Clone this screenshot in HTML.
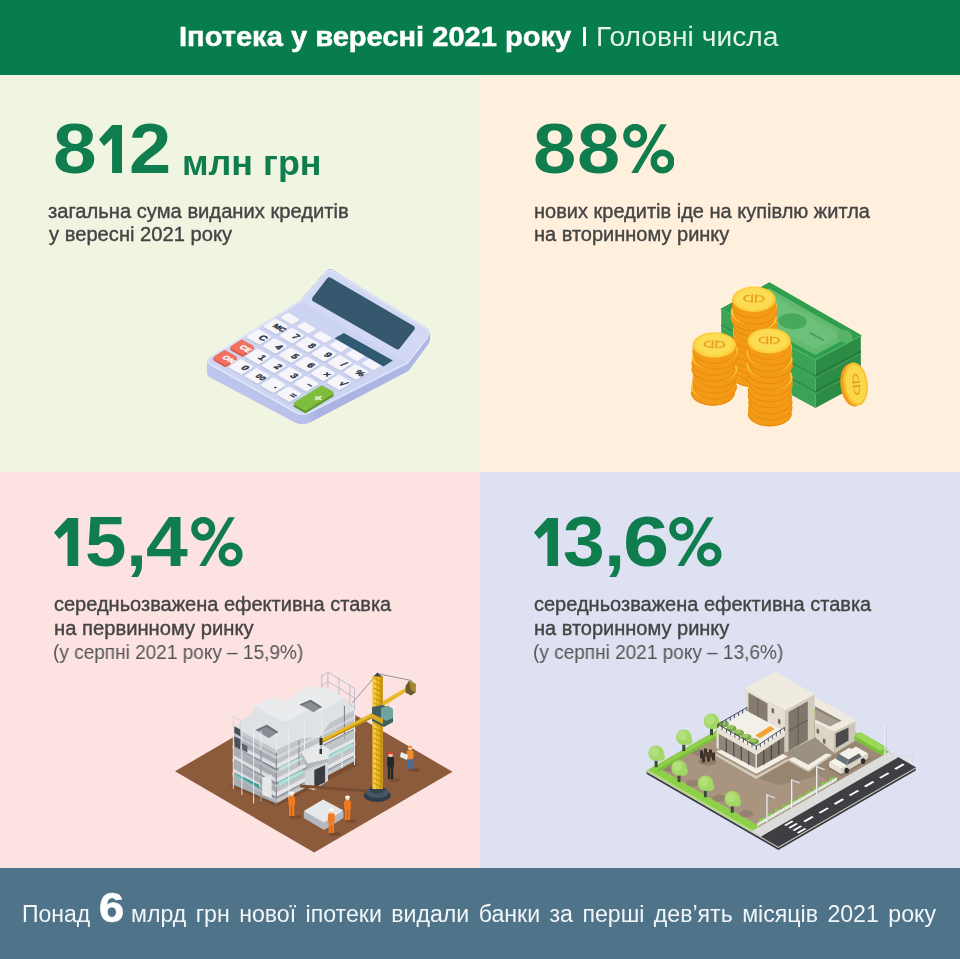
<!DOCTYPE html>
<html lang="uk">
<head>
<meta charset="utf-8">
<title>Іпотека у вересні 2021 року</title>
<style>
html,body{margin:0;padding:0;}
body{width:960px;height:959px;position:relative;overflow:hidden;background:#f0f5e1;font-family:"Liberation Sans",sans-serif;}
.blk{position:absolute;}
.t{position:absolute;white-space:nowrap;line-height:1;transform-origin:0 0;will-change:transform;}
.hdr{left:0;top:0;width:960px;height:75px;background:#077d4c;}
.q1{left:0;top:75px;width:480px;height:397px;background:#f0f5e1;}
.q2{left:480px;top:75px;width:480px;height:397px;background:#fff0de;}
.q3{left:0;top:472px;width:480px;height:396px;background:#fde2e2;}
.q4{left:480px;top:472px;width:480px;height:396px;background:#dee1f2;}
.ftr{left:0;top:868px;width:960px;height:91px;background:#4f748a;}
.big{font-weight:bold;color:#0f7d4d;font-size:70px;}
.sub{color:#444;font-size:20px;-webkit-text-stroke:0.38px #444;}
.lt{color:#555;font-size:19.5px;transform:scaleX(0.975);}
svg{position:absolute;left:0;top:0;}
</style>
</head>
<body>
<div class="blk hdr"></div>
<div class="blk q1"></div>
<div class="blk q2"></div>
<div class="blk q3"></div>
<div class="blk q4"></div>
<div class="blk ftr"></div>

<!-- header -->
<div class="t" style="left:179px;top:23.5px;font-size:27px;font-weight:bold;color:#fff;transform:scaleX(1.077);-webkit-text-stroke:0.5px #fff;">Іпотека у вересні 2021 року</div>
<div class="blk" style="left:583px;top:26.5px;width:3px;height:19.5px;background:#fff;"></div>
<div class="t" style="left:596px;top:24.3px;font-size:27px;color:#e3f3ea;transform:scaleX(1.046);">Головні числа</div>

<div class="t big" style="left:53.45px;top:113.8px;transform:scaleX(1.1200);">8</div>
<svg width="23.4" height="48.3" viewBox="0 0 23.8 48.3" preserveAspectRatio="none" style="left:99.0px;top:125.0px"><path d="M13.3,0 H23.8 V48.3 H13.3 V13.2 L5.2,21 L0,14.5 Z" fill="#0f7d4d"/></svg>
<div class="t big" style="left:128.52px;top:113.8px;transform:scaleX(1.0845);">2</div>
<div class="t big" style="left:532.97px;top:113.8px;transform:scaleX(1.1114);">8</div>
<div class="t big" style="left:576.87px;top:113.8px;transform:scaleX(1.1086);">8</div>
<svg width="51.7" height="49.4" viewBox="0 0 51.8 49.4" preserveAspectRatio="none" style="left:622.5px;top:124.2px"><g fill="none" stroke="#0f7d4d" stroke-width="6.4"><circle cx="12.2" cy="11.8" r="8.8"/><circle cx="39.6" cy="37.6" r="8.8"/></g><polygon points="8.3,48.9 14.7,48.9 43.8,0.3 37.5,0.3" fill="#0f7d4d"/></svg>
<svg width="24.2" height="48.3" viewBox="0 0 23.8 48.3" preserveAspectRatio="none" style="left:54.4px;top:518.0px"><path d="M13.3,0 H23.8 V48.3 H13.3 V13.2 L5.2,21 L0,14.5 Z" fill="#0f7d4d"/></svg>
<div class="t big" style="left:85.26px;top:506.8px;transform:scaleX(1.0657);">5</div>
<div class="t big" style="left:126.40px;top:506.8px;transform:scaleX(1.0816);">,</div>
<div class="t big" style="left:146.30px;top:506.8px;transform:scaleX(1.0728);">4</div>
<svg width="51.8" height="49.4" viewBox="0 0 51.8 49.4" preserveAspectRatio="none" style="left:191.3px;top:517.2px"><g fill="none" stroke="#0f7d4d" stroke-width="6.4"><circle cx="12.2" cy="11.8" r="8.8"/><circle cx="39.6" cy="37.6" r="8.8"/></g><polygon points="8.3,48.9 14.7,48.9 43.8,0.3 37.5,0.3" fill="#0f7d4d"/></svg>
<svg width="24.0" height="48.3" viewBox="0 0 23.8 48.3" preserveAspectRatio="none" style="left:534.2px;top:518.0px"><path d="M13.3,0 H23.8 V48.3 H13.3 V13.2 L5.2,21 L0,14.5 Z" fill="#0f7d4d"/></svg>
<div class="t big" style="left:563.00px;top:506.8px;transform:scaleX(1.0714);">3</div>
<div class="t big" style="left:603.85px;top:506.8px;transform:scaleX(1.0918);">,</div>
<div class="t big" style="left:622.98px;top:506.8px;transform:scaleX(1.1845);">6</div>
<svg width="52.7" height="49.4" viewBox="0 0 51.8 49.4" preserveAspectRatio="none" style="left:669.3px;top:517.2px"><g fill="none" stroke="#0f7d4d" stroke-width="6.4"><circle cx="12.2" cy="11.8" r="8.8"/><circle cx="39.6" cy="37.6" r="8.8"/></g><polygon points="8.3,48.9 14.7,48.9 43.8,0.3 37.5,0.3" fill="#0f7d4d"/></svg>
<!-- q1 -->
<div class="t" style="left:182px;top:145.3px;font-size:35px;font-weight:bold;color:#0f7d4d;transform:scaleX(1.025);">млн грн</div>
<div class="t sub" style="transform:scaleX(1.008);left:48px;top:201.1px;">загальна сума виданих кредитів</div>
<div class="t sub" style="transform:scaleX(1.008);left:48.5px;top:224.2px;">у вересні 2021 року</div>

<!-- q2 -->
<div class="t sub" style="left:534px;top:201.1px;">нових кредитів іде на купівлю житла</div>
<div class="t sub" style="left:534px;top:224.2px;">на вторинному ринку</div>

<!-- q3 -->
<div class="t sub" style="left:54px;top:594.2px;">середньозважена ефективна ставка</div>
<div class="t sub" style="transform:scaleX(1.01);left:54px;top:617.5px;">на первинному ринку</div>
<div class="t lt" style="left:53px;top:642.5px;">(у серпні 2021 року – 15,9%)</div>

<!-- q4 -->
<div class="t sub" style="left:534px;top:594.2px;">середньозважена ефективна ставка</div>
<div class="t sub" style="left:534px;top:617.5px;">на вторинному ринку</div>
<div class="t lt" style="left:533px;top:642.5px;">(у серпні 2021 року – 13,6%)</div>

<!-- footer -->
<div class="t" style="left:21.5px;top:902.5px;font-size:23px;color:#f3f6f8;">Понад</div>
<div class="t" style="left:98.6px;top:886.7px;font-size:42px;font-weight:bold;color:#fff;transform:scaleX(1.08);-webkit-text-stroke:0.6px #fff;">6</div>
<div class="t" style="left:131.2px;top:902.5px;font-size:23px;color:#f3f6f8;word-spacing:3px;transform:scaleX(1.0055);">млрд грн нової іпотеки видали банки за перші дев’ять місяців 2021 року</div>


<!-- calc -->
<svg width="250" height="180" viewBox="0 0 960 691.2" style="left:190px;top:260px;overflow:visible">
<defs><linearGradient id="cg" x1="0" y1="0" x2="1" y2="0"><stop offset="0" stop-color="#bec6ed"/><stop offset="0.45" stop-color="#b9c1ea"/><stop offset="0.5" stop-color="#a9b2e2"/><stop offset="1" stop-color="#aeb7e5"/></linearGradient></defs>
<path d="M81.5,447.3 Q62.0,437.0 79.6,423.7 L427.3,161.5 Q428.0,161.0 428.5,160.4 L525.5,49.9 Q536.0,38.0 549.1,46.9 L901.5,285.8 Q924.0,301.0 907.8,322.8 L835.1,420.5 Q834.0,422.0 832.4,422.8 L459.9,617.4 Q432.0,632.0 404.1,617.3 Z" fill="url(#cg)" stroke="url(#cg)" stroke-width="12" stroke-linejoin="round"/>
<path d="M81.6,443.9 Q62.0,433.5 79.8,420.3 L427.3,161.5 Q428.0,161.0 428.6,160.4 L525.6,49.9 Q536.0,38.0 549.1,46.8 L901.4,284.0 Q924.0,299.3 907.7,321.2 L835.1,418.4 Q834.0,419.9 832.4,420.7 L460.0,614.9 Q432.0,629.4 404.1,614.7 Z" fill="url(#cg)" stroke="url(#cg)" stroke-width="12" stroke-linejoin="round"/>
<path d="M81.7,440.5 Q62.0,430.0 79.9,416.8 L427.3,161.5 Q428.0,161.0 428.6,160.3 L525.6,49.9 Q536.0,38.0 549.1,46.8 L901.2,282.3 Q924.0,297.6 907.6,319.5 L835.1,416.3 Q834.0,417.7 832.4,418.6 L460.0,612.3 Q432.0,626.9 404.1,612.0 Z" fill="url(#cg)" stroke="url(#cg)" stroke-width="12" stroke-linejoin="round"/>
<path d="M81.7,437.0 Q62.0,426.5 80.1,413.4 L427.3,161.5 Q428.0,161.0 428.6,160.3 L525.6,49.8 Q536.0,38.0 549.1,46.7 L901.0,280.6 Q924.0,295.9 907.4,317.9 L835.1,414.1 Q834.0,415.6 832.4,416.4 L460.1,609.7 Q432.0,624.3 404.1,609.4 Z" fill="url(#cg)" stroke="url(#cg)" stroke-width="12" stroke-linejoin="round"/>
<path d="M81.8,433.6 Q62.0,423.0 80.3,409.9 L427.3,161.5 Q428.0,161.0 428.6,160.3 L525.6,49.8 Q536.0,38.0 549.1,46.6 L900.9,278.9 Q924.0,294.1 907.3,316.2 L835.1,412.0 Q834.0,413.4 832.4,414.3 L460.1,607.2 Q432.0,621.7 404.1,606.7 Z" fill="url(#cg)" stroke="url(#cg)" stroke-width="12" stroke-linejoin="round"/>
<path d="M81.9,430.2 Q62.0,419.5 80.4,406.5 L427.2,161.5 Q428.0,161.0 428.6,160.3 L525.7,49.8 Q536.0,38.0 549.1,46.6 L900.7,277.2 Q924.0,292.4 907.2,314.6 L835.1,409.8 Q834.0,411.3 832.4,412.1 L460.2,604.6 Q432.0,619.1 404.1,604.1 Z" fill="url(#cg)" stroke="url(#cg)" stroke-width="12" stroke-linejoin="round"/>
<path d="M82.0,426.8 Q62.0,416.0 80.6,403.0 L427.2,161.6 Q428.0,161.0 428.6,160.3 L525.7,49.7 Q536.0,38.0 549.1,46.5 L900.6,275.5 Q924.0,290.7 907.1,313.0 L835.1,407.7 Q834.0,409.1 832.4,410.0 L460.2,602.0 Q432.0,616.6 404.1,601.4 Z" fill="url(#cg)" stroke="url(#cg)" stroke-width="12" stroke-linejoin="round"/>
<path d="M82.0,423.4 Q62.0,412.5 80.8,399.6 L427.2,161.6 Q428.0,161.0 428.7,160.3 L525.7,49.7 Q536.0,38.0 549.0,46.4 L900.4,273.7 Q924.0,289.0 907.0,311.3 L835.1,405.6 Q834.0,407.0 832.4,407.8 L460.3,599.5 Q432.0,614.0 404.1,598.8 Z" fill="url(#cg)" stroke="url(#cg)" stroke-width="12" stroke-linejoin="round"/>
<path d="M82.1,420.0 Q62.0,409.0 81.0,396.1 L427.2,161.6 Q428.0,161.0 428.7,160.2 L525.8,49.6 Q536.0,38.0 549.0,46.4 L900.2,272.0 Q924.0,287.3 906.8,309.7 L835.1,403.4 Q834.0,404.9 832.4,405.7 L460.3,596.9 Q432.0,611.4 404.1,596.2 Z" fill="url(#cg)" stroke="url(#cg)" stroke-width="12" stroke-linejoin="round"/>
<path d="M82.2,416.6 Q62.0,405.5 81.2,392.7 L427.1,161.6 Q428.0,161.0 428.7,160.2 L525.8,49.6 Q536.0,38.0 549.0,46.3 L900.1,270.3 Q924.0,285.6 906.7,308.1 L835.1,401.3 Q834.0,402.7 832.4,403.5 L460.4,594.3 Q432.0,608.9 404.1,593.5 Z" fill="url(#cg)" stroke="url(#cg)" stroke-width="12" stroke-linejoin="round"/>
<path d="M82.3,413.2 Q62.0,402.0 81.4,389.3 L427.1,161.6 Q428.0,161.0 428.7,160.2 L525.8,49.6 Q536.0,38.0 549.0,46.2 L899.9,268.6 Q924.0,283.9 906.6,306.4 L835.1,399.2 Q834.0,400.6 832.4,401.4 L460.4,591.8 Q432.0,606.3 404.1,590.9 Z" fill="url(#cg)" stroke="url(#cg)" stroke-width="12" stroke-linejoin="round"/>
<path d="M82.4,409.8 Q62.0,398.5 81.5,385.8 L427.1,161.6 Q428.0,161.0 428.7,160.2 L525.9,49.5 Q536.0,38.0 549.0,46.2 L899.7,266.9 Q924.0,282.1 906.5,304.8 L835.1,397.0 Q834.0,398.4 832.4,399.2 L460.5,589.2 Q432.0,603.7 404.1,588.2 Z" fill="url(#cg)" stroke="url(#cg)" stroke-width="12" stroke-linejoin="round"/>
<path d="M82.5,406.4 Q62.0,395.0 81.7,382.4 L427.0,161.6 Q428.0,161.0 428.7,160.1 L525.9,49.5 Q536.0,38.0 549.0,46.1 L899.6,265.2 Q924.0,280.4 906.3,303.2 L835.1,394.9 Q834.0,396.3 832.4,397.1 L460.5,586.6 Q432.0,601.1 404.1,585.6 Z" fill="url(#cg)" stroke="url(#cg)" stroke-width="12" stroke-linejoin="round"/>
<path d="M82.6,403.0 Q62.0,391.5 81.9,378.9 L427.0,161.6 Q428.0,161.0 428.8,160.1 L525.9,49.5 Q536.0,38.0 549.0,46.0 L899.4,263.5 Q924.0,278.7 906.2,301.5 L835.1,392.7 Q834.0,394.1 832.4,395.0 L460.5,584.1 Q432.0,598.6 404.1,582.9 Z" fill="url(#cg)" stroke="url(#cg)" stroke-width="12" stroke-linejoin="round"/>
<path d="M82.7,399.6 Q62.0,388.0 82.1,375.5 L427.0,161.6 Q428.0,161.0 428.8,160.1 L526.0,49.4 Q536.0,38.0 548.9,46.0 L899.2,261.7 Q924.0,277.0 906.1,299.9 L835.1,390.6 Q834.0,392.0 832.4,392.8 L460.6,581.5 Q432.0,596.0 404.0,580.3 Z" fill="url(#cg)" stroke="url(#cg)" stroke-width="12" stroke-linejoin="round"/>
<path d="M82.7,399.6 Q62.0,388.0 82.1,375.5 L427.0,161.6 Q428.0,161.0 428.8,160.1 L526.0,49.4 Q536.0,38.0 548.9,46.0 L899.2,261.7 Q924.0,277.0 906.1,299.9 L835.1,390.6 Q834.0,392.0 832.4,392.8 L460.6,581.5 Q432.0,596.0 404.0,580.3 Z" fill="#cdd4f2" stroke="#e1e6f9" stroke-width="12" stroke-linejoin="round"/>
<path d="M82.7,399.6 Q62.0,388.0 82.1,375.5 L427.0,161.6 Q428.0,161.0 428.8,160.1 L526.0,49.4 Q536.0,38.0 548.9,46.0 L899.2,261.7 Q924.0,277.0 906.1,299.9 L835.1,390.6 Q834.0,392.0 832.4,392.8 L460.6,581.5 Q432.0,596.0 404.0,580.3 Z" fill="#cdd4f2"/>
<path d="M432.3,163.4 Q428.0,161.0 431.2,157.3 L528.2,46.9 Q536.0,38.0 546.1,44.2 L903.0,264.1 Q924.0,277.0 908.8,296.4 L836.1,389.3 Q834.0,392.0 831.0,390.3 Z" fill="#d3d9f4"/>
<polygon points="535.0,78.0 852.0,262.0 797.0,332.0 480.0,150.0" fill="#36586f" stroke="#36586f" stroke-width="22" stroke-linejoin="round"/>
<polygon points="591.0,280.0 779.0,386.0 743.0,409.0 555.0,300.0" fill="#2f5a72"/>
<polygon points="376.9,213.1 413.8,234.1 393.1,246.9 356.2,225.9" fill="#c9cde4" stroke="#c9cde4" stroke-width="10" stroke-linejoin="round"/><polygon points="376.9,208.1 413.8,229.1 393.1,241.9 356.2,220.9" fill="#f6f6fa" stroke="#f6f6fa" stroke-width="10" stroke-linejoin="round"/>
<polygon points="439.2,248.4 476.1,269.4 455.4,282.2 418.5,261.2" fill="#c9cde4" stroke="#c9cde4" stroke-width="10" stroke-linejoin="round"/><polygon points="439.2,243.4 476.1,264.4 455.4,277.2 418.5,256.2" fill="#f6f6fa" stroke="#f6f6fa" stroke-width="10" stroke-linejoin="round"/>
<polygon points="501.6,283.7 538.5,304.7 517.7,317.5 480.8,296.5" fill="#c9cde4" stroke="#c9cde4" stroke-width="10" stroke-linejoin="round"/><polygon points="501.6,278.7 538.5,299.7 517.7,312.5 480.8,291.5" fill="#f6f6fa" stroke="#f6f6fa" stroke-width="10" stroke-linejoin="round"/>
<polygon points="563.8,319.0 600.8,340.0 580.0,352.8 543.0,331.8" fill="#c9cde4" stroke="#c9cde4" stroke-width="10" stroke-linejoin="round"/><polygon points="563.8,314.0 600.8,335.0 580.0,347.8 543.0,326.8" fill="#f6f6fa" stroke="#f6f6fa" stroke-width="10" stroke-linejoin="round"/>
<polygon points="626.1,354.3 663.1,375.3 642.3,388.1 605.4,367.1" fill="#c9cde4" stroke="#c9cde4" stroke-width="10" stroke-linejoin="round"/><polygon points="626.1,349.3 663.1,370.3 642.3,383.1 605.4,362.1" fill="#f6f6fa" stroke="#f6f6fa" stroke-width="10" stroke-linejoin="round"/>
<polygon points="688.4,389.6 725.4,410.6 704.6,423.4 667.6,402.4" fill="#c9cde4" stroke="#c9cde4" stroke-width="10" stroke-linejoin="round"/><polygon points="688.4,384.6 725.4,405.6 704.6,418.4 667.6,397.4" fill="#f6f6fa" stroke="#f6f6fa" stroke-width="10" stroke-linejoin="round"/>
<polygon points="328.6,238.8 369.1,262.0 331.4,285.2 290.9,262.0" fill="#c3c8e2" stroke="#c3c8e2" stroke-width="12" stroke-linejoin="round"/><polygon points="328.6,231.8 369.1,255.0 331.4,278.2 290.9,255.0" fill="#f6f6fa" stroke="#f6f6fa" stroke-width="12" stroke-linejoin="round"/>
<text transform="matrix(0.869,0.494,-0.852,0.524,335.0,266.0)" font-family="Liberation Sans, sans-serif" font-weight="bold" font-size="30" stroke="#2a3344" stroke-width="1.5" text-anchor="middle" fill="#2a3344">MC</text>
<polygon points="390.1,273.8 430.6,296.9 392.9,320.2 352.4,297.1" fill="#c3c8e2" stroke="#c3c8e2" stroke-width="12" stroke-linejoin="round"/><polygon points="390.1,266.8 430.6,289.9 392.9,313.2 352.4,290.1" fill="#f6f6fa" stroke="#f6f6fa" stroke-width="12" stroke-linejoin="round"/>
<text transform="matrix(0.869,0.494,-0.852,0.524,396.5,301.0)" font-family="Liberation Sans, sans-serif" font-weight="bold" font-size="36" stroke="#2a3344" stroke-width="1.5" text-anchor="middle" fill="#2a3344">7</text>
<polygon points="451.6,308.8 492.1,331.9 454.4,355.2 413.9,332.1" fill="#c3c8e2" stroke="#c3c8e2" stroke-width="12" stroke-linejoin="round"/><polygon points="451.6,301.8 492.1,324.9 454.4,348.2 413.9,325.1" fill="#f6f6fa" stroke="#f6f6fa" stroke-width="12" stroke-linejoin="round"/>
<text transform="matrix(0.869,0.494,-0.852,0.524,458.0,336.0)" font-family="Liberation Sans, sans-serif" font-weight="bold" font-size="36" stroke="#2a3344" stroke-width="1.5" text-anchor="middle" fill="#2a3344">8</text>
<polygon points="513.1,343.8 553.6,366.9 515.9,390.2 475.4,367.1" fill="#c3c8e2" stroke="#c3c8e2" stroke-width="12" stroke-linejoin="round"/><polygon points="513.1,336.8 553.6,359.9 515.9,383.2 475.4,360.1" fill="#f6f6fa" stroke="#f6f6fa" stroke-width="12" stroke-linejoin="round"/>
<text transform="matrix(0.869,0.494,-0.852,0.524,519.5,371.0)" font-family="Liberation Sans, sans-serif" font-weight="bold" font-size="36" stroke="#2a3344" stroke-width="1.5" text-anchor="middle" fill="#2a3344">9</text>
<polygon points="574.6,378.8 615.1,401.9 577.4,425.2 536.9,402.1" fill="#c3c8e2" stroke="#c3c8e2" stroke-width="12" stroke-linejoin="round"/><polygon points="574.6,371.8 615.1,394.9 577.4,418.2 536.9,395.1" fill="#f6f6fa" stroke="#f6f6fa" stroke-width="12" stroke-linejoin="round"/>
<text transform="matrix(0.869,0.494,-0.852,0.524,581.0,406.0)" font-family="Liberation Sans, sans-serif" font-weight="bold" font-size="36" stroke="#2a3344" stroke-width="1.5" text-anchor="middle" fill="#2a3344">/</text>
<polygon points="636.1,413.8 676.6,436.9 638.9,460.2 598.4,437.1" fill="#c3c8e2" stroke="#c3c8e2" stroke-width="12" stroke-linejoin="round"/><polygon points="636.1,406.8 676.6,429.9 638.9,453.2 598.4,430.1" fill="#f6f6fa" stroke="#f6f6fa" stroke-width="12" stroke-linejoin="round"/>
<text transform="matrix(0.869,0.494,-0.852,0.524,642.5,441.0)" font-family="Liberation Sans, sans-serif" font-weight="bold" font-size="36" stroke="#2a3344" stroke-width="1.5" text-anchor="middle" fill="#2a3344">%</text>
<polygon points="263.6,278.8 304.1,301.9 266.4,325.2 225.9,302.1" fill="#c3c8e2" stroke="#c3c8e2" stroke-width="12" stroke-linejoin="round"/><polygon points="263.6,271.8 304.1,294.9 266.4,318.2 225.9,295.1" fill="#f6f6fa" stroke="#f6f6fa" stroke-width="12" stroke-linejoin="round"/>
<text transform="matrix(0.869,0.494,-0.852,0.524,270.0,306.0)" font-family="Liberation Sans, sans-serif" font-weight="bold" font-size="36" stroke="#2a3344" stroke-width="1.5" text-anchor="middle" fill="#2a3344">C</text>
<polygon points="325.1,313.8 365.6,336.9 327.9,360.2 287.4,337.1" fill="#c3c8e2" stroke="#c3c8e2" stroke-width="12" stroke-linejoin="round"/><polygon points="325.1,306.8 365.6,329.9 327.9,353.2 287.4,330.1" fill="#f6f6fa" stroke="#f6f6fa" stroke-width="12" stroke-linejoin="round"/>
<text transform="matrix(0.869,0.494,-0.852,0.524,331.5,341.0)" font-family="Liberation Sans, sans-serif" font-weight="bold" font-size="36" stroke="#2a3344" stroke-width="1.5" text-anchor="middle" fill="#2a3344">4</text>
<polygon points="386.6,348.8 427.1,371.9 389.4,395.2 348.9,372.1" fill="#c3c8e2" stroke="#c3c8e2" stroke-width="12" stroke-linejoin="round"/><polygon points="386.6,341.8 427.1,364.9 389.4,388.2 348.9,365.1" fill="#f6f6fa" stroke="#f6f6fa" stroke-width="12" stroke-linejoin="round"/>
<text transform="matrix(0.869,0.494,-0.852,0.524,393.0,376.0)" font-family="Liberation Sans, sans-serif" font-weight="bold" font-size="36" stroke="#2a3344" stroke-width="1.5" text-anchor="middle" fill="#2a3344">5</text>
<polygon points="448.1,383.8 488.6,406.9 450.9,430.2 410.4,407.1" fill="#c3c8e2" stroke="#c3c8e2" stroke-width="12" stroke-linejoin="round"/><polygon points="448.1,376.8 488.6,399.9 450.9,423.2 410.4,400.1" fill="#f6f6fa" stroke="#f6f6fa" stroke-width="12" stroke-linejoin="round"/>
<text transform="matrix(0.869,0.494,-0.852,0.524,454.5,411.0)" font-family="Liberation Sans, sans-serif" font-weight="bold" font-size="36" stroke="#2a3344" stroke-width="1.5" text-anchor="middle" fill="#2a3344">6</text>
<polygon points="509.6,418.8 550.1,441.9 512.4,465.2 471.9,442.1" fill="#c3c8e2" stroke="#c3c8e2" stroke-width="12" stroke-linejoin="round"/><polygon points="509.6,411.8 550.1,434.9 512.4,458.2 471.9,435.1" fill="#f6f6fa" stroke="#f6f6fa" stroke-width="12" stroke-linejoin="round"/>
<text transform="matrix(0.869,0.494,-0.852,0.524,516.0,446.0)" font-family="Liberation Sans, sans-serif" font-weight="bold" font-size="36" stroke="#2a3344" stroke-width="1.5" text-anchor="middle" fill="#2a3344">×</text>
<polygon points="571.1,453.8 611.6,476.9 573.9,500.2 533.4,477.1" fill="#c3c8e2" stroke="#c3c8e2" stroke-width="12" stroke-linejoin="round"/><polygon points="571.1,446.8 611.6,469.9 573.9,493.2 533.4,470.1" fill="#f6f6fa" stroke="#f6f6fa" stroke-width="12" stroke-linejoin="round"/>
<text transform="matrix(0.869,0.494,-0.852,0.524,577.5,481.0)" font-family="Liberation Sans, sans-serif" font-weight="bold" font-size="36" stroke="#2a3344" stroke-width="1.5" text-anchor="middle" fill="#2a3344">√</text>
<polygon points="198.6,318.8 239.1,341.9 201.4,365.2 160.9,342.1" fill="#d9574a" stroke="#d9574a" stroke-width="12" stroke-linejoin="round"/><polygon points="198.6,311.8 239.1,334.9 201.4,358.2 160.9,335.1" fill="#f2705f" stroke="#f2705f" stroke-width="12" stroke-linejoin="round"/>
<text transform="matrix(0.869,0.494,-0.852,0.524,205.0,346.0)" font-family="Liberation Sans, sans-serif" font-weight="bold" font-size="30" stroke="#fff" stroke-width="1.5" text-anchor="middle" fill="#fff">CE</text>
<polygon points="260.1,353.8 300.6,376.9 262.9,400.2 222.4,377.1" fill="#c3c8e2" stroke="#c3c8e2" stroke-width="12" stroke-linejoin="round"/><polygon points="260.1,346.8 300.6,369.9 262.9,393.2 222.4,370.1" fill="#f6f6fa" stroke="#f6f6fa" stroke-width="12" stroke-linejoin="round"/>
<text transform="matrix(0.869,0.494,-0.852,0.524,266.5,381.0)" font-family="Liberation Sans, sans-serif" font-weight="bold" font-size="36" stroke="#2a3344" stroke-width="1.5" text-anchor="middle" fill="#2a3344">1</text>
<polygon points="321.6,388.8 362.1,411.9 324.4,435.2 283.9,412.1" fill="#c3c8e2" stroke="#c3c8e2" stroke-width="12" stroke-linejoin="round"/><polygon points="321.6,381.8 362.1,404.9 324.4,428.2 283.9,405.1" fill="#f6f6fa" stroke="#f6f6fa" stroke-width="12" stroke-linejoin="round"/>
<text transform="matrix(0.869,0.494,-0.852,0.524,328.0,416.0)" font-family="Liberation Sans, sans-serif" font-weight="bold" font-size="36" stroke="#2a3344" stroke-width="1.5" text-anchor="middle" fill="#2a3344">2</text>
<polygon points="383.1,423.8 423.6,446.9 385.9,470.2 345.4,447.1" fill="#c3c8e2" stroke="#c3c8e2" stroke-width="12" stroke-linejoin="round"/><polygon points="383.1,416.8 423.6,439.9 385.9,463.2 345.4,440.1" fill="#f6f6fa" stroke="#f6f6fa" stroke-width="12" stroke-linejoin="round"/>
<text transform="matrix(0.869,0.494,-0.852,0.524,389.5,451.0)" font-family="Liberation Sans, sans-serif" font-weight="bold" font-size="36" stroke="#2a3344" stroke-width="1.5" text-anchor="middle" fill="#2a3344">3</text>
<polygon points="444.6,458.8 485.1,481.9 447.4,505.2 406.9,482.1" fill="#c3c8e2" stroke="#c3c8e2" stroke-width="12" stroke-linejoin="round"/><polygon points="444.6,451.8 485.1,474.9 447.4,498.2 406.9,475.1" fill="#f6f6fa" stroke="#f6f6fa" stroke-width="12" stroke-linejoin="round"/>
<text transform="matrix(0.869,0.494,-0.852,0.524,451.0,486.0)" font-family="Liberation Sans, sans-serif" font-weight="bold" font-size="36" stroke="#2a3344" stroke-width="1.5" text-anchor="middle" fill="#2a3344">–</text>
<polygon points="133.6,358.8 174.1,381.9 136.4,405.2 95.9,382.1" fill="#d9574a" stroke="#d9574a" stroke-width="12" stroke-linejoin="round"/><polygon points="133.6,351.8 174.1,374.9 136.4,398.2 95.9,375.1" fill="#f2705f" stroke="#f2705f" stroke-width="12" stroke-linejoin="round"/>
<text transform="matrix(0.869,0.494,-0.852,0.524,140.0,386.0)" font-family="Liberation Sans, sans-serif" font-weight="bold" font-size="30" stroke="#fff" stroke-width="1.5" text-anchor="middle" fill="#fff">ON</text>
<polygon points="195.1,393.8 235.6,416.9 197.9,440.2 157.4,417.1" fill="#c3c8e2" stroke="#c3c8e2" stroke-width="12" stroke-linejoin="round"/><polygon points="195.1,386.8 235.6,409.9 197.9,433.2 157.4,410.1" fill="#f6f6fa" stroke="#f6f6fa" stroke-width="12" stroke-linejoin="round"/>
<text transform="matrix(0.869,0.494,-0.852,0.524,201.5,421.0)" font-family="Liberation Sans, sans-serif" font-weight="bold" font-size="36" stroke="#2a3344" stroke-width="1.5" text-anchor="middle" fill="#2a3344">0</text>
<polygon points="256.6,428.8 297.1,451.9 259.4,475.2 218.9,452.1" fill="#c3c8e2" stroke="#c3c8e2" stroke-width="12" stroke-linejoin="round"/><polygon points="256.6,421.8 297.1,444.9 259.4,468.2 218.9,445.1" fill="#f6f6fa" stroke="#f6f6fa" stroke-width="12" stroke-linejoin="round"/>
<text transform="matrix(0.869,0.494,-0.852,0.524,263.0,456.0)" font-family="Liberation Sans, sans-serif" font-weight="bold" font-size="30" stroke="#2a3344" stroke-width="1.5" text-anchor="middle" fill="#2a3344">00</text>
<polygon points="318.1,463.8 358.6,486.9 320.9,510.2 280.4,487.1" fill="#c3c8e2" stroke="#c3c8e2" stroke-width="12" stroke-linejoin="round"/><polygon points="318.1,456.8 358.6,479.9 320.9,503.2 280.4,480.1" fill="#f6f6fa" stroke="#f6f6fa" stroke-width="12" stroke-linejoin="round"/>
<text transform="matrix(0.869,0.494,-0.852,0.524,324.5,491.0)" font-family="Liberation Sans, sans-serif" font-weight="bold" font-size="36" stroke="#2a3344" stroke-width="1.5" text-anchor="middle" fill="#2a3344">.</text>
<polygon points="379.6,498.8 420.1,521.9 382.4,545.1 341.9,522.0" fill="#c3c8e2" stroke="#c3c8e2" stroke-width="12" stroke-linejoin="round"/><polygon points="379.6,491.8 420.1,514.9 382.4,538.1 341.9,515.0" fill="#f6f6fa" stroke="#f6f6fa" stroke-width="12" stroke-linejoin="round"/>
<text transform="matrix(0.869,0.494,-0.852,0.524,386.0,526.0)" font-family="Liberation Sans, sans-serif" font-weight="bold" font-size="36" stroke="#2a3344" stroke-width="1.5" text-anchor="middle" fill="#2a3344">=</text>
<polygon points="506.7,496.5 547.3,519.5 443.3,583.5 402.7,560.5" fill="#5f9c2c" stroke="#5f9c2c" stroke-width="10" stroke-linejoin="round"/>
<polygon points="506.7,486.5 547.3,509.5 443.3,573.5 402.7,550.5" fill="#7fbd3e" stroke="#7fbd3e" stroke-width="10" stroke-linejoin="round"/>
<text transform="matrix(0.869,0.494,-0.852,0.524,479.0,539.0)" font-family="Liberation Sans, sans-serif" font-weight="bold" font-size="48" text-anchor="middle" fill="#e4f3cc" stroke="#e4f3cc" stroke-width="2">+</text>
</svg>
<!-- money -->
<svg width="200" height="170" viewBox="0 0 960 816" style="left:680px;top:270px;overflow:visible">
<polygon points="198.0,188.0 650.0,432.0 650.0,662.0 198.0,418.0" fill="#3aa355"/>
<polygon points="650.0,432.0 868.0,315.0 868.0,545.0 650.0,662.0" fill="#2c8c45"/>
<polygon points="198.0,258.7 650.0,502.7 650.0,516.7 198.0,272.7" fill="#2e924a"/>
<polygon points="650.0,502.7 868.0,385.7 868.0,399.7 650.0,516.7" fill="#237a3a"/>
<polyline points="198.0,272.7 650.0,516.7 868.0,399.7" fill="none" stroke="#4db264" stroke-width="4"/>
<polygon points="198.0,335.3 650.0,579.3 650.0,593.3 198.0,349.3" fill="#2e924a"/>
<polygon points="650.0,579.3 868.0,462.3 868.0,476.3 650.0,593.3" fill="#237a3a"/>
<polyline points="198.0,349.3 650.0,593.3 868.0,476.3" fill="none" stroke="#4db264" stroke-width="4"/>
<polygon points="430.0,62.0 868.0,315.0 650.0,432.0 198.0,188.0" fill="#2f9e4d" stroke="#2f9e4d" stroke-width="6" stroke-linejoin="round"/>
<polygon points="252.9,187.6 649.1,403.3 815.5,313.9 428.5,92.2" fill="#63ba70" stroke="#63ba70" stroke-width="8" stroke-linejoin="round"/>
<polygon points="302.9,189.8 644.1,376.7 767.1,310.6 431.9,119.8" fill="#6cc079" stroke="#6cc079" stroke-width="6" stroke-linejoin="round"/>
<ellipse cx="540" cy="246" rx="68" ry="38" fill="#48a85b" transform="rotate(4 540 246)"/>
<line x1="625" y1="302" x2="688" y2="336" stroke="#3f9f54" stroke-width="8" stroke-linecap="round"/>
<ellipse cx="790" cy="318" rx="30" ry="40" fill="#58b367" transform="rotate(-60 790 318)"/>
<polyline points="198.0,188.0 650.0,432.0 868.0,315.0" fill="none" stroke="#55b96a" stroke-width="5" stroke-linejoin="round"/>
<path d="M247,470 v32 a104,61 0 0 0 208,0 v-32 z" fill="#f39a17"/><path d="M247,499 a104,61 0 0 0 208,0" fill="none" stroke="#e88c10" stroke-width="5"/><ellipse cx="351" cy="470" rx="104" ry="61" fill="#fbc636"/><path d="M257,440 v32 a104,61 0 0 0 208,0 v-32 z" fill="#f39a17"/><path d="M257,469 a104,61 0 0 0 208,0" fill="none" stroke="#e88c10" stroke-width="5"/><ellipse cx="361" cy="440" rx="104" ry="61" fill="#fbc636"/><path d="M257,410 v32 a104,61 0 0 0 208,0 v-32 z" fill="#f39a17"/><path d="M257,439 a104,61 0 0 0 208,0" fill="none" stroke="#e88c10" stroke-width="5"/><ellipse cx="361" cy="410" rx="104" ry="61" fill="#fbc636"/><path d="M247,380 v32 a104,61 0 0 0 208,0 v-32 z" fill="#f39a17"/><path d="M247,409 a104,61 0 0 0 208,0" fill="none" stroke="#e88c10" stroke-width="5"/><ellipse cx="351" cy="380" rx="104" ry="61" fill="#fbc636"/><path d="M251,350 v32 a104,61 0 0 0 208,0 v-32 z" fill="#f39a17"/><path d="M251,379 a104,61 0 0 0 208,0" fill="none" stroke="#e88c10" stroke-width="5"/><ellipse cx="355" cy="350" rx="104" ry="61" fill="#fbc636"/><path d="M257,320 v32 a104,61 0 0 0 208,0 v-32 z" fill="#f39a17"/><path d="M257,349 a104,61 0 0 0 208,0" fill="none" stroke="#e88c10" stroke-width="5"/><ellipse cx="361" cy="320" rx="104" ry="61" fill="#fbc636"/><path d="M254,290 v32 a104,61 0 0 0 208,0 v-32 z" fill="#f39a17"/><path d="M254,319 a104,61 0 0 0 208,0" fill="none" stroke="#e88c10" stroke-width="5"/><ellipse cx="358" cy="290" rx="104" ry="61" fill="#fbc636"/><path d="M259,260 v32 a104,61 0 0 0 208,0 v-32 z" fill="#f39a17"/><path d="M259,289 a104,61 0 0 0 208,0" fill="none" stroke="#e88c10" stroke-width="5"/><ellipse cx="363" cy="260" rx="104" ry="61" fill="#fbc636"/><path d="M257,230 v32 a104,61 0 0 0 208,0 v-32 z" fill="#f39a17"/><path d="M257,259 a104,61 0 0 0 208,0" fill="none" stroke="#e88c10" stroke-width="5"/><ellipse cx="361" cy="230" rx="104" ry="61" fill="#fbc636"/><path d="M244,200 v32 a104,61 0 0 0 208,0 v-32 z" fill="#f39a17"/><path d="M244,229 a104,61 0 0 0 208,0" fill="none" stroke="#e88c10" stroke-width="5"/><ellipse cx="348" cy="200" rx="104" ry="61" fill="#fbc636"/><path d="M257,170 v32 a104,61 0 0 0 208,0 v-32 z" fill="#f39a17"/><path d="M257,199 a104,61 0 0 0 208,0" fill="none" stroke="#e88c10" stroke-width="5"/><ellipse cx="361" cy="170" rx="104" ry="61" fill="#fbc636"/><path d="M251,140 v32 a104,61 0 0 0 208,0 v-32 z" fill="#f39a17"/><path d="M251,169 a104,61 0 0 0 208,0" fill="none" stroke="#e88c10" stroke-width="5"/><ellipse cx="355" cy="140" rx="104" ry="61" fill="#fbc636"/><ellipse cx="355" cy="140" rx="99" ry="58" fill="#fcd33f"/><ellipse cx="355" cy="138" rx="88" ry="51" fill="#fbdc52"/><g transform="translate(355,137) rotate(0) scale(1,0.59)" fill="none" stroke="#e9a21f" stroke-width="9" stroke-linecap="round"><path d="M-9,-30 V30 M-9,22 H-30 A24,24 0 0 1 -30,-24 H-22"/><path d="M9,30 V-30 M9,-22 H30 A24,24 0 0 1 30,24 H22"/></g>
<path d="M54,559.5 v30.5 a104,61 0 0 0 208,0 v-30.5 z" fill="#f39a17"/><path d="M54,587.0 a104,61 0 0 0 208,0" fill="none" stroke="#e88c10" stroke-width="5"/><ellipse cx="158" cy="559.5" rx="104" ry="61" fill="#fbc636"/><path d="M64,531.0 v30.5 a104,61 0 0 0 208,0 v-30.5 z" fill="#f39a17"/><path d="M64,558.5 a104,61 0 0 0 208,0" fill="none" stroke="#e88c10" stroke-width="5"/><ellipse cx="168" cy="531.0" rx="104" ry="61" fill="#fbc636"/><path d="M61,502.5 v30.5 a104,61 0 0 0 208,0 v-30.5 z" fill="#f39a17"/><path d="M61,530.0 a104,61 0 0 0 208,0" fill="none" stroke="#e88c10" stroke-width="5"/><ellipse cx="165" cy="502.5" rx="104" ry="61" fill="#fbc636"/><path d="M67,474.0 v30.5 a104,61 0 0 0 208,0 v-30.5 z" fill="#f39a17"/><path d="M67,501.5 a104,61 0 0 0 208,0" fill="none" stroke="#e88c10" stroke-width="5"/><ellipse cx="171" cy="474.0" rx="104" ry="61" fill="#fbc636"/><path d="M57,445.5 v30.5 a104,61 0 0 0 208,0 v-30.5 z" fill="#f39a17"/><path d="M57,473.0 a104,61 0 0 0 208,0" fill="none" stroke="#e88c10" stroke-width="5"/><ellipse cx="161" cy="445.5" rx="104" ry="61" fill="#fbc636"/><path d="M57,417.0 v30.5 a104,61 0 0 0 208,0 v-30.5 z" fill="#f39a17"/><path d="M57,444.5 a104,61 0 0 0 208,0" fill="none" stroke="#e88c10" stroke-width="5"/><ellipse cx="161" cy="417.0" rx="104" ry="61" fill="#fbc636"/><path d="M69,388.5 v30.5 a104,61 0 0 0 208,0 v-30.5 z" fill="#f39a17"/><path d="M69,416.0 a104,61 0 0 0 208,0" fill="none" stroke="#e88c10" stroke-width="5"/><ellipse cx="173" cy="388.5" rx="104" ry="61" fill="#fbc636"/><path d="M61,360.0 v30.5 a104,61 0 0 0 208,0 v-30.5 z" fill="#f39a17"/><path d="M61,387.5 a104,61 0 0 0 208,0" fill="none" stroke="#e88c10" stroke-width="5"/><ellipse cx="165" cy="360.0" rx="104" ry="61" fill="#fbc636"/><ellipse cx="165" cy="360.0" rx="99" ry="58" fill="#fcd33f"/><ellipse cx="165" cy="358.0" rx="88" ry="51" fill="#fbdc52"/><g transform="translate(165,357.0) rotate(0) scale(1,0.59)" fill="none" stroke="#e9a21f" stroke-width="9" stroke-linecap="round"><path d="M-9,-30 V30 M-9,22 H-30 A24,24 0 0 1 -30,-24 H-22"/><path d="M9,30 V-30 M9,-22 H30 A24,24 0 0 1 30,24 H22"/></g>
<path d="M327,659 v31 a104,61 0 0 0 208,0 v-31 z" fill="#f39a17"/><path d="M327,687 a104,61 0 0 0 208,0" fill="none" stroke="#e88c10" stroke-width="5"/><ellipse cx="431" cy="659" rx="104" ry="61" fill="#fbc636"/><path d="M330,630 v31 a104,61 0 0 0 208,0 v-31 z" fill="#f39a17"/><path d="M330,658 a104,61 0 0 0 208,0" fill="none" stroke="#e88c10" stroke-width="5"/><ellipse cx="434" cy="630" rx="104" ry="61" fill="#fbc636"/><path d="M330,601 v31 a104,61 0 0 0 208,0 v-31 z" fill="#f39a17"/><path d="M330,629 a104,61 0 0 0 208,0" fill="none" stroke="#e88c10" stroke-width="5"/><ellipse cx="434" cy="601" rx="104" ry="61" fill="#fbc636"/><path d="M327,572 v31 a104,61 0 0 0 208,0 v-31 z" fill="#f39a17"/><path d="M327,600 a104,61 0 0 0 208,0" fill="none" stroke="#e88c10" stroke-width="5"/><ellipse cx="431" cy="572" rx="104" ry="61" fill="#fbc636"/><path d="M327,543 v31 a104,61 0 0 0 208,0 v-31 z" fill="#f39a17"/><path d="M327,571 a104,61 0 0 0 208,0" fill="none" stroke="#e88c10" stroke-width="5"/><ellipse cx="431" cy="543" rx="104" ry="61" fill="#fbc636"/><path d="M332,514 v31 a104,61 0 0 0 208,0 v-31 z" fill="#f39a17"/><path d="M332,542 a104,61 0 0 0 208,0" fill="none" stroke="#e88c10" stroke-width="5"/><ellipse cx="436" cy="514" rx="104" ry="61" fill="#fbc636"/><path d="M320,485 v31 a104,61 0 0 0 208,0 v-31 z" fill="#f39a17"/><path d="M320,513 a104,61 0 0 0 208,0" fill="none" stroke="#e88c10" stroke-width="5"/><ellipse cx="424" cy="485" rx="104" ry="61" fill="#fbc636"/><path d="M320,456 v31 a104,61 0 0 0 208,0 v-31 z" fill="#f39a17"/><path d="M320,484 a104,61 0 0 0 208,0" fill="none" stroke="#e88c10" stroke-width="5"/><ellipse cx="424" cy="456" rx="104" ry="61" fill="#fbc636"/><path d="M332,427 v31 a104,61 0 0 0 208,0 v-31 z" fill="#f39a17"/><path d="M332,455 a104,61 0 0 0 208,0" fill="none" stroke="#e88c10" stroke-width="5"/><ellipse cx="436" cy="427" rx="104" ry="61" fill="#fbc636"/><path d="M320,398 v31 a104,61 0 0 0 208,0 v-31 z" fill="#f39a17"/><path d="M320,426 a104,61 0 0 0 208,0" fill="none" stroke="#e88c10" stroke-width="5"/><ellipse cx="424" cy="398" rx="104" ry="61" fill="#fbc636"/><path d="M330,369 v31 a104,61 0 0 0 208,0 v-31 z" fill="#f39a17"/><path d="M330,397 a104,61 0 0 0 208,0" fill="none" stroke="#e88c10" stroke-width="5"/><ellipse cx="434" cy="369" rx="104" ry="61" fill="#fbc636"/><path d="M324,340 v31 a104,61 0 0 0 208,0 v-31 z" fill="#f39a17"/><path d="M324,368 a104,61 0 0 0 208,0" fill="none" stroke="#e88c10" stroke-width="5"/><ellipse cx="428" cy="340" rx="104" ry="61" fill="#fbc636"/><ellipse cx="428" cy="340" rx="99" ry="58" fill="#fcd33f"/><ellipse cx="428" cy="338" rx="88" ry="51" fill="#fbdc52"/><g transform="translate(428,337) rotate(0) scale(1,0.59)" fill="none" stroke="#e9a21f" stroke-width="9" stroke-linecap="round"><path d="M-9,-30 V30 M-9,22 H-30 A24,24 0 0 1 -30,-24 H-22"/><path d="M9,30 V-30 M9,-22 H30 A24,24 0 0 1 30,24 H22"/></g>
<g transform="rotate(-7 840 548)"><ellipse cx="828" cy="550" rx="58" ry="104" fill="#f39a17"/><ellipse cx="843" cy="548" rx="58" ry="104" fill="#f9c230"/><ellipse cx="845" cy="548" rx="48" ry="92" fill="#fbd84a"/></g>
<g transform="translate(846,548) rotate(83) scale(1,0.55)" fill="none" stroke="#e9a21f" stroke-width="9" stroke-linecap="round"><path d="M-9,-30 V30 M-9,22 H-30 A24,24 0 0 1 -30,-24 H-22"/><path d="M9,30 V-30 M9,-22 H30 A24,24 0 0 1 30,24 H22"/></g>
</svg>
<!-- site -->
<svg width="960" height="959" viewBox="0 0 960 959">
<polygon points="175.0,771.3 313.3,690.6 452.5,771.8 314.2,852.5" fill="#8c5b3b" />
<polygon points="229.4,785.4 276.3,806.6 357.7,765.1 354.5,752.6" fill="#7a4d30" />
<g stroke="#bcc0cc" stroke-width="1"><line x1="321.7" y1="674.4" x2="321.7" y2="715.1"/><line x1="327.9" y1="671.3" x2="327.9" y2="711.9"/><line x1="338.9" y1="677.5" x2="338.9" y2="718.2"/><line x1="349.8" y1="684.6" x2="349.8" y2="725.2"/><line x1="354.5" y1="688.5" x2="354.5" y2="729.1"/><polyline points="321.7,676.7 327.9,672.0 354.5,688.5" fill="none"/><polyline points="321.7,686.1 327.9,681.4 354.5,697.8" fill="none"/><polyline points="321.7,695.5 327.9,690.8 354.5,707.2" fill="none"/><polyline points="321.7,704.9 327.9,700.2 354.5,716.6" fill="none"/></g>
<polygon points="233.3,727.6 276.3,749.5 276.3,803.4 233.3,784.7" fill="#a9aeb5" />
<polygon points="276.3,749.5 354.5,710.4 354.5,761.2 276.3,803.4" fill="#bfc3c8" />
<polygon points="233.3,741.7 276.3,764.3 276.3,768.7 233.3,745.8" fill="#d9dcdf" />
<polygon points="233.3,745.8 276.3,768.7 276.3,772.1 233.3,748.9" fill="#7d838b" />
<polygon points="233.3,755.1 276.3,778.4 276.3,782.8 233.3,759.1" fill="#d9dcdf" />
<polygon points="233.3,759.1 276.3,782.8 276.3,786.2 233.3,762.3" fill="#7d838b" />
<polygon points="233.3,768.4 276.3,792.5 276.3,796.9 233.3,772.5" fill="#d9dcdf" />
<polygon points="233.3,772.5 276.3,796.9 276.3,800.3 233.3,775.6" fill="#7d838b" />
<polygon points="234.9,772.9 259.1,784.7 259.1,788.6 234.9,776.4" fill="#3f9c94" />
<polygon points="276.3,764.3 354.5,724.5 354.5,728.5 276.3,768.7" fill="#e3e5e7" />
<polygon points="276.3,768.7 354.5,728.5 354.5,731.4 276.3,772.1" fill="#8b9097" />
<polygon points="276.3,778.4 354.5,737.9 354.5,741.9 276.3,782.8" fill="#e3e5e7" />
<polygon points="276.3,782.8 354.5,741.9 354.5,744.7 276.3,786.2" fill="#8b9097" />
<polygon points="276.3,792.5 354.5,751.2 354.5,755.3 276.3,796.9" fill="#e3e5e7" />
<polygon points="276.3,796.9 354.5,755.3 354.5,758.1 276.3,800.3" fill="#8b9097" />
<polygon points="278.7,781.5 302.9,769.5 302.9,774.5 278.7,786.7" fill="#8fd3c9" />
<polygon points="327.9,754.9 353.0,742.7 353.0,746.7 327.9,758.9" fill="#8fd3c9" />
<polygon points="278.7,767.5 302.9,755.7 302.9,758.9 278.7,770.7" fill="#a9ddd5" />
<polygon points="305.2,772.9 313.9,768.2 327.9,761.2 327.9,780.8 313.9,790.1 305.2,787.0" fill="#d4d7da" />
<polygon points="314.3,770.1 325.1,765.1 325.1,782.3 314.3,787.8" fill="#3b3c41" />
<polygon points="301.3,752.6 320.1,743.2 329.5,749.5 327.9,758.9 307.6,763.5" fill="#e6e8ea" />
<polygon points="301.3,752.6 307.6,763.5 327.9,758.9 327.9,762.0 306.8,767.5 300.6,755.7" fill="#b4b8be" />
<polygon points="262.2,777.6 271.6,774.5 271.6,798.0 262.2,794.8" fill="#e4e6e8" />
<polygon points="233.3,727.6 253.6,711.9 254.4,706.0 271.6,697.5 286.5,700.7 307.6,686.9 329.5,688.2 345.1,698.6 354.5,710.4 329.5,723.2 320.1,737.0 301.3,738.5 276.3,750.2" fill="#dfe2e5" />
<polygon points="233.3,727.6 276.3,750.2 301.3,738.5 320.1,737.0 329.5,723.2 354.5,710.4 354.5,713.8 329.5,726.8 320.9,740.4 301.3,742.4 276.3,754.2 233.3,731.3" fill="#c3c7cc" />
<polygon points="255.2,706.0 271.6,697.5 286.5,700.7 307.6,686.9 329.5,688.2 343.6,698.6 320.1,711.9 307.6,710.4 285.7,722.1 271.6,716.6" fill="#e9ebed" />
<polygon points="310.7,699.7 322.0,706.9 313.5,712.2 299.5,704.4" fill="#8a8e94" />
<polygon points="266.9,724.8 278.2,731.9 268.8,738.2 255.7,729.9" fill="#8a8e94" />
<polygon points="310.7,699.7 322.0,706.9 320.1,708.0 309.9,701.8 301.3,705.4 299.5,704.4" fill="#6e7278" />
<polygon points="266.9,724.8 278.2,731.9 276.3,733.2 266.3,726.9 257.5,730.7 255.7,729.9" fill="#6e7278" />
<g stroke="#eceef0" stroke-width="0.9"><line x1="233.3" y1="716.6" x2="233.3" y2="788.6"/><line x1="241.9" y1="720.5" x2="241.9" y2="794.8"/><line x1="253.6" y1="726.8" x2="253.6" y2="803.4"/><line x1="261.0" y1="730.7" x2="261.0" y2="801.1"/><line x1="276.3" y1="733.8" x2="276.3" y2="804.2"/><line x1="288.8" y1="727.6" x2="288.8" y2="799.5"/><line x1="299.0" y1="738.5" x2="299.0" y2="765.1"/><line x1="304.5" y1="719.7" x2="304.5" y2="752.6"/><line x1="321.7" y1="711.9" x2="321.7" y2="752.6"/><line x1="344.4" y1="704.1" x2="344.4" y2="738.5"/><line x1="354.5" y1="710.4" x2="354.5" y2="765.1"/><line x1="342.0" y1="752.6" x2="342.0" y2="768.2"/></g>
<g stroke="#5b6068" stroke-width="0.8"><line x1="261.0" y1="749.5" x2="261.0" y2="802.7"/><line x1="276.3" y1="752.6" x2="276.3" y2="804.2"/><line x1="299.0" y1="740.1" x2="299.0" y2="765.1"/><line x1="320.9" y1="735.4" x2="320.9" y2="752.6"/><line x1="344.4" y1="705.7" x2="344.4" y2="738.5"/></g>
<g stroke="#f2f3f5" stroke-width="0.6"><polyline points="232.2,732.7 276.3,757.0 355.8,716.0" fill="none"/><polyline points="232.2,734.3 276.3,758.5 355.8,717.6" fill="none"/><polyline points="232.2,746.1 276.3,771.1 355.8,729.4" fill="none"/><polyline points="232.2,747.7 276.3,772.6 355.8,730.9" fill="none"/><polyline points="232.2,759.5 276.3,785.1 355.8,742.7" fill="none"/><polyline points="232.2,761.0 276.3,786.7 355.8,744.3" fill="none"/><polyline points="232.2,772.9 276.3,799.2 355.8,756.1" fill="none"/><polyline points="232.2,774.4 276.3,800.8 355.8,757.7" fill="none"/></g>
<polygon points="305.2,772.9 313.9,768.2 327.9,761.2 327.9,780.8 313.9,790.1 305.2,787.0" fill="#d4d7da" />
<polygon points="314.3,770.1 325.1,765.1 325.1,782.3 314.3,787.8" fill="#3b3c41" />
<polygon points="301.3,752.6 320.1,743.2 329.5,749.5 327.9,758.9 307.6,763.5" fill="#e6e8ea" />
<polygon points="301.3,752.6 307.6,763.5 327.9,758.9 327.9,762.0 306.8,767.5 300.6,755.7" fill="#b4b8be" />
<polygon points="234.4,726.3 240.3,729.4 240.3,736.2 234.4,733.0" fill="#4b4f58" />
<polygon points="241.9,743.2 247.4,746.0 247.4,752.6 241.9,749.8" fill="#5a6070" />
<g stroke="#c9ccd6" stroke-width="0.8" fill="none"><polyline points="233.3,727.6 233.3,716.6 241.1,720.5 241.1,731.5"/></g>
<polygon points="234.4,736.2 240.3,739.3 240.3,749.5 234.4,746.3" fill="#4b4f58" />
<polygon points="303.8,812.0 323.0,801.0 343.5,812.0 343.5,818.0 324.0,830.0 303.8,818.0" fill="#b5b9bf" />
<polygon points="303.8,811.0 323.0,799.5 343.5,810.5 324.0,822.5" fill="#e6e8eb" />
<line x1="300" y1="786" x2="368" y2="791" stroke="#7a4d30" stroke-width="3"/>
<ellipse cx="377.3" cy="795.5" rx="13.5" ry="6.5" fill="#2f3d47"/>
<ellipse cx="377.3" cy="792.5" rx="11.5" ry="5.5" fill="#465763"/>
<ellipse cx="377.3" cy="789.5" rx="8" ry="4" fill="#34434e"/>
<g stroke="#6b6f78" stroke-width="0.7" fill="none"><line x1="377.3" y1="673.6" x2="411.7" y2="680.6"/><line x1="377.3" y1="673.8" x2="352.2" y2="703"/><line x1="412" y1="681" x2="412" y2="690"/></g>
<polygon points="382.0,701.5 409.0,686.0 410.5,689.0 383.5,706.0" fill="#e9b927" />
<polygon points="405.5,686.0 409.0,680.8 415.5,684.0 415.5,692.5 411.0,695.5 405.5,692.5" fill="#6b5a2e" />
<polygon points="409.0,680.8 415.5,684.0 415.5,692.5 411.0,690.0" fill="#a3872f" />
<polygon points="375.7,711.0 321.0,739.3 321.0,743.6 375.7,716.5" fill="#e9b927" />
<polygon points="375.7,714.5 321.0,742.2 321.0,743.6 375.7,716.5" fill="#b98c14" />
<rect x="319.5" y="738" width="3" height="7" fill="#333"/><rect x="319.5" y="749" width="2.5" height="5" fill="#333"/><line x1="321" y1="745" x2="321" y2="749" stroke="#555" stroke-width="0.6"/>
<rect x="372.6" y="676" width="10.2" height="113" fill="#e8b422"/>
<rect x="372.6" y="676" width="3.4" height="113" fill="#f4cb3c"/>
<rect x="379.8" y="676" width="3" height="113" fill="#c99716"/>
<g stroke="#b1840f" stroke-width="0.8"><line x1="373.5" y1="678" x2="382" y2="682"/><line x1="373.5" y1="683" x2="382" y2="687"/><line x1="373.5" y1="688" x2="382" y2="692"/><line x1="373.5" y1="693" x2="382" y2="697"/><line x1="373.5" y1="698" x2="382" y2="702"/><line x1="373.5" y1="703" x2="382" y2="707"/><line x1="373.5" y1="708" x2="382" y2="712"/><line x1="373.5" y1="713" x2="382" y2="717"/><line x1="373.5" y1="718" x2="382" y2="722"/><line x1="373.5" y1="723" x2="382" y2="727"/><line x1="373.5" y1="728" x2="382" y2="732"/><line x1="373.5" y1="733" x2="382" y2="737"/><line x1="373.5" y1="738" x2="382" y2="742"/><line x1="373.5" y1="743" x2="382" y2="747"/><line x1="373.5" y1="748" x2="382" y2="752"/><line x1="373.5" y1="753" x2="382" y2="757"/><line x1="373.5" y1="758" x2="382" y2="762"/><line x1="373.5" y1="763" x2="382" y2="767"/><line x1="373.5" y1="768" x2="382" y2="772"/><line x1="373.5" y1="773" x2="382" y2="777"/><line x1="373.5" y1="778" x2="382" y2="782"/><line x1="373.5" y1="783" x2="382" y2="787"/></g>
<polygon points="373.5,676.5 377.3,672.5 382.0,676.5" fill="#3a4a50" />
<polygon points="372.0,707.0 383.0,705.0 393.0,711.0 393.0,722.0 384.0,727.0 372.0,721.0" fill="#3f5e5c" />
<polygon points="381.0,708.0 388.0,705.5 393.0,709.0 393.0,718.0 386.0,721.0 381.0,718.0" fill="#6fa39b" />
<polygon points="371.0,713.0 383.0,719.0 383.0,724.0 371.0,718.0" fill="#d9a81e" />
<ellipse cx="295.7" cy="817" rx="6" ry="2" fill="#7a4d30"/><rect x="289.0" y="804.48" width="2.4" height="11.52" fill="#ee7a22"/><rect x="292.0" y="804.48" width="2.4" height="11.52" fill="#ee7a22"/><rect x="288.3" y="796.32" width="6.8" height="9.600000000000001" rx="1.8" fill="#ee7a22"/><circle cx="291.7" cy="794.4" r="2.04" fill="#f2d2b0"/><path d="M289.3,793.92 a2.4000000000000004,2.4000000000000004 0 0 1 4.800000000000001,0 z" fill="#ffffff"/>
<ellipse cx="335.3" cy="834" rx="6" ry="2" fill="#7a4d30"/><rect x="328.6" y="821.48" width="2.4" height="11.52" fill="#ee7a22"/><rect x="331.6" y="821.48" width="2.4" height="11.52" fill="#ee7a22"/><rect x="327.90000000000003" y="813.32" width="6.8" height="9.600000000000001" rx="1.8" fill="#ee7a22"/><circle cx="331.3" cy="811.4" r="2.04" fill="#f2d2b0"/><path d="M328.90000000000003,810.92 a2.4000000000000004,2.4000000000000004 0 0 1 4.800000000000001,0 z" fill="#ffffff"/>
<ellipse cx="351.5" cy="821" rx="6" ry="2" fill="#7a4d30"/><rect x="344.8" y="808.48" width="2.4" height="11.52" fill="#ee7a22"/><rect x="347.8" y="808.48" width="2.4" height="11.52" fill="#ee7a22"/><rect x="344.1" y="800.32" width="6.8" height="9.600000000000001" rx="1.8" fill="#ee7a22"/><circle cx="347.5" cy="798.4" r="2.04" fill="#f2d2b0"/><path d="M345.1,797.92 a2.4000000000000004,2.4000000000000004 0 0 1 4.800000000000001,0 z" fill="#ffffff"/>
<ellipse cx="394.6" cy="780" rx="6" ry="2" fill="#7a4d30"/><rect x="387.90000000000003" y="766.04" width="2.4" height="12.959999999999999" fill="#23262d"/><rect x="390.90000000000003" y="766.04" width="2.4" height="12.959999999999999" fill="#23262d"/><rect x="387.20000000000005" y="756.86" width="6.8" height="10.8" rx="1.8" fill="#23262d"/><circle cx="390.6" cy="754.7" r="2.2950000000000004" fill="#f2d2b0"/><path d="M387.90000000000003,754.16 a2.7,2.7 0 0 1 5.4,0 z" fill="#e53c2e"/>
<ellipse cx="414.1" cy="770" rx="6" ry="2" fill="#7a4d30"/><rect x="407.40000000000003" y="757.96" width="2.4" height="11.04" fill="#3c6fb0"/><rect x="410.40000000000003" y="757.96" width="2.4" height="11.04" fill="#3c6fb0"/><rect x="406.70000000000005" y="750.14" width="6.8" height="9.200000000000001" rx="1.8" fill="#ef8a2c"/><circle cx="410.1" cy="748.3" r="1.955" fill="#f2d2b0"/><path d="M407.8,747.84 a2.3000000000000003,2.3000000000000003 0 0 1 4.6000000000000005,0 z" fill="#ef8a2c"/>
<polygon points="401.0,752.0 408.0,755.0 407.0,760.0 400.0,757.0" fill="#e9ecef" />
</svg>
<!-- house -->
<svg width="960" height="959" viewBox="0 0 960 959">
<polygon points="646.7,770.7 778.3,846.7 915.8,767.3 915.8,770.5 778.3,849.9 646.7,773.9" fill="#3a3a3d" />
<polygon points="646.7,770.7 778.3,846.7 915.8,767.3 915.8,768.5 778.3,847.9 646.7,771.9" fill="#d9d9d4" />
<polygon points="778.3,846.7 915.8,767.3 784.2,691.3 646.7,770.7" fill="#a9957f" />
<polygon points="833.7,783.7 883.8,754.8 850.0,735.3 799.9,764.2" fill="#9c8a77" />
<polygon points="652.7,774.2 790.3,694.8 784.2,691.3 646.7,770.7" fill="#8fd04b" />
<polygon points="751.5,831.2 759.7,826.5 654.9,766.0 646.7,770.7" fill="#8fd04b" />
<polygon points="882.9,755.3 889.0,751.8 784.2,691.3 778.1,694.8" fill="#8fd04b" />
<polygon points="751.5,831.2 752.8,830.5 648.0,770.0 646.7,770.7" fill="#b7e57d" />
<polygon points="761.0,836.7 898.5,757.3 889.0,751.8 751.5,831.2" fill="#dcdcda" />
<polygon points="778.3,846.7 915.8,767.3 898.5,757.3 761.0,836.7" fill="#3e3f42" />
<polygon points="805.1,822.2 813.8,817.2 811.9,816.1 803.2,821.1" fill="#ffffff" />
<polygon points="820.3,813.5 829.0,808.5 827.1,807.4 818.4,812.4" fill="#ffffff" />
<polygon points="835.5,804.7 844.1,799.7 842.2,798.6 833.6,803.6" fill="#ffffff" />
<polygon points="850.6,796.0 859.3,791.0 857.4,789.9 848.7,794.9" fill="#ffffff" />
<polygon points="865.8,787.2 874.4,782.2 872.5,781.1 863.9,786.1" fill="#ffffff" />
<polygon points="880.9,778.5 889.6,773.5 887.7,772.4 879.0,777.4" fill="#ffffff" />
<polygon points="896.1,769.7 904.7,764.7 902.8,763.6 894.2,768.6" fill="#ffffff" />
<polygon points="798.6,833.4 806.4,828.9 804.6,827.9 796.8,832.4" fill="#ffffff" />
<polygon points="794.3,831.0 802.1,826.5 800.4,825.5 792.6,830.0" fill="#ffffff" />
<polygon points="790.1,828.5 797.9,824.0 796.1,823.0 788.3,827.5" fill="#ffffff" />
<polygon points="785.8,826.1 793.6,821.6 791.9,820.6 784.1,825.1" fill="#ffffff" />
<ellipse cx="670.1" cy="768.2" rx="7" ry="3.6" fill="#95836f"/><rect x="654.6" y="758.2" width="3" height="9" fill="#3d4a3c"/><circle cx="656.1" cy="753.2" r="7.8" fill="#a3d766"/><circle cx="660.6" cy="756.7" r="4.29" fill="#a3d766"/><circle cx="654.6" cy="751.7" r="4.68" fill="#b4e07c"/>
<ellipse cx="697.8" cy="752.2" rx="7" ry="3.6" fill="#95836f"/><rect x="682.3" y="742.2" width="3" height="9" fill="#3d4a3c"/><circle cx="683.8" cy="737.2" r="7.8" fill="#a3d766"/><circle cx="688.3" cy="740.7" r="4.29" fill="#a3d766"/><circle cx="682.3" cy="735.7" r="4.68" fill="#b4e07c"/>
<ellipse cx="725.5" cy="736.2" rx="7" ry="3.6" fill="#95836f"/><rect x="710.0" y="726.2" width="3" height="9" fill="#3d4a3c"/><circle cx="711.5" cy="721.2" r="7.8" fill="#a3d766"/><circle cx="716.0" cy="724.7" r="4.29" fill="#a3d766"/><circle cx="710.0" cy="719.7" r="4.68" fill="#b4e07c"/>
<polygon points="657.1,772.7 722.9,734.7 722.9,731.7 657.1,769.7" fill="#7bbd3d" />
<polygon points="756.3,777.5 788.1,761.6 808.8,770.9 835.0,755.0 855.6,741.9 861.3,745.6 812.5,777.5 778.8,785.0" fill="#97856f" />
<ellipse cx="707.5" cy="761.5" rx="9" ry="4" fill="#8f7d69"/>
<rect x="700.0" y="750.5" width="3" height="8" fill="#3b3029"/>
<rect x="704.0" y="748.5" width="3" height="8" fill="#3b3029"/>
<rect x="709.0" y="749.5" width="3" height="8" fill="#3b3029"/>
<rect x="702.0" y="754.5" width="3" height="8" fill="#3b3029"/>
<rect x="707.0" y="753.5" width="3" height="8" fill="#3b3029"/>
<rect x="712.0" y="752.5" width="3" height="8" fill="#3b3029"/>
<ellipse cx="707.5" cy="754.5" rx="5" ry="2.5" fill="#4a3c32"/>
<polygon points="814.8,721.3 834.3,731.0 834.3,753.5 814.8,743.8" fill="#ddd6c7" />
<polygon points="834.3,731.0 855.3,720.9 855.3,740.4 834.3,753.5" fill="#cec7b8" />
<polygon points="835.8,733.6 848.5,727.4 848.5,740.6 835.8,747.9" fill="#4b4b4e" />
<polygon points="814.8,697.3 855.3,719.0 855.3,721.6 834.3,731.8 814.8,722.2" fill="#eeeadf" />
<polygon points="815.1,706.6 841.4,720.7 830.1,726.5 815.1,719.4" fill="#a79e91" />
<polygon points="815.1,706.6 841.4,720.7 839.1,721.8 815.1,709.3" fill="#8f8679" />
<polygon points="816.6,728.4 819.1,729.5 819.1,734.0 816.6,732.9" fill="#6f675e" />
<polygon points="823.0,738.5 825.4,739.6 825.4,744.1 823.0,743.0" fill="#6f675e" />
<polygon points="785.3,751.6 814.4,736.8 834.3,753.1 807.8,768.1" fill="#9b9183" />
<polygon points="788.1,759.3 793.8,756.9 808.2,764.8 826.0,753.5 831.6,754.6 808.2,770.4" fill="#f1eee6" />
<polygon points="788.1,759.3 808.2,770.4 831.6,754.6 831.6,756.1 808.2,772.1 788.1,760.8" fill="#cfc9bb" />
<polygon points="745.0,688.4 785.3,710.9 785.3,752.8 745.0,730.3" fill="#e4dfd2" />
<polygon points="785.3,710.9 814.4,694.1 814.4,737.8 785.3,752.8" fill="#d3ccbd" />
<polygon points="745.0,688.4 775.0,672.1 814.4,694.1 785.3,710.9" fill="#efebe1" />
<polygon points="748.4,692.8 767.5,703.4 767.5,723.5 748.4,712.8" fill="#857b70" />
<line x1="757.9" y1="698.0" x2="757.9" y2="718.3" stroke="#5e564e" stroke-width="0.7"/>
<polygon points="788.5,711.9 807.8,701.2 807.8,740.0 788.5,750.9" fill="#7f766c" />
<line x1="798.1" y1="706.6" x2="798.1" y2="745.6" stroke="#5a524b" stroke-width="0.8"/>
<line x1="788.5" y1="730.6" x2="807.8" y2="720.3" stroke="#5a524b" stroke-width="0.8"/>
<polygon points="771.6,707.8 774.1,709.1 774.1,713.8 771.6,712.4" fill="#6f675e" />
<polygon points="778.0,718.6 780.4,719.9 780.4,724.6 778.0,723.3" fill="#6f675e" />
<polygon points="716.1,753.5 756.3,776.0 787.8,758.8 787.8,761.0 756.3,779.0 716.1,756.1" fill="#d3cdbf" />
<polygon points="716.1,751.3 756.3,773.8 787.8,756.5 756.3,740.0" fill="#f3f0e8" />
<polygon points="717.8,732.5 756.3,754.6 756.3,768.5 717.8,747.9" fill="#8f867b" />
<polygon points="756.3,754.6 784.4,735.9 784.4,753.1 756.3,768.5" fill="#7d746a" />
<polygon points="716.5,731.0 718.8,732.3 718.8,749.4 716.5,748.1" fill="#e4dfd2" />
<line x1="726.3" y1="737.4" x2="726.3" y2="752.0" stroke="#4a4440" stroke-width="1.1"/>
<line x1="733.8" y1="741.7" x2="733.8" y2="756.3" stroke="#4a4440" stroke-width="1.1"/>
<line x1="741.3" y1="746.0" x2="741.3" y2="760.6" stroke="#4a4440" stroke-width="1.1"/>
<line x1="748.8" y1="750.3" x2="748.8" y2="764.9" stroke="#4a4440" stroke-width="1.1"/>
<line x1="763.8" y1="749.6" x2="763.8" y2="764.6" stroke="#453f3b" stroke-width="1.1"/>
<line x1="771.3" y1="744.6" x2="771.3" y2="759.6" stroke="#453f3b" stroke-width="1.1"/>
<line x1="778.8" y1="739.6" x2="778.8" y2="754.6" stroke="#453f3b" stroke-width="1.1"/>
<polygon points="755.5,753.1 757.0,753.1 757.0,769.3 755.5,769.3" fill="#e9e4d8" />
<polygon points="717.3,727.8 756.3,749.8 784.8,731.0 784.8,735.9 756.3,755.0 717.3,732.9" fill="#e7e2d6" />
<polygon points="717.3,727.8 746.9,710.9 784.8,731.0 756.3,749.8" fill="#f3f0e8" />
<ellipse cx="724.0" cy="724.1" rx="5" ry="3.2" fill="#78a646"/>
<ellipse cx="723.2" cy="723.0" rx="3.2" ry="1.9" fill="#9bc663"/>
<ellipse cx="731.5" cy="728.4" rx="5" ry="3.2" fill="#78a646"/>
<ellipse cx="730.7" cy="727.3" rx="3.2" ry="1.9" fill="#9bc663"/>
<ellipse cx="739.0" cy="732.8" rx="5" ry="3.2" fill="#78a646"/>
<ellipse cx="738.2" cy="731.7" rx="3.2" ry="1.9" fill="#9bc663"/>
<ellipse cx="746.5" cy="737.1" rx="5" ry="3.2" fill="#78a646"/>
<ellipse cx="745.7" cy="736.0" rx="3.2" ry="1.9" fill="#9bc663"/>
<ellipse cx="754.0" cy="741.4" rx="5" ry="3.2" fill="#78a646"/>
<ellipse cx="753.2" cy="740.3" rx="3.2" ry="1.9" fill="#9bc663"/>
<polygon points="755.3,735.3 770.3,725.9 774.6,729.1 760.0,738.5" fill="#f2a63a" />
<g stroke="#3d4252" stroke-width="0.9"><line x1="717.8" y1="727.8" x2="717.8" y2="724.3"/><line x1="722.0" y1="725.4" x2="722.0" y2="721.8"/><line x1="726.1" y1="723.0" x2="726.1" y2="719.4"/><line x1="730.3" y1="720.6" x2="730.3" y2="717.0"/><line x1="734.4" y1="718.2" x2="734.4" y2="714.6"/><line x1="738.6" y1="715.8" x2="738.6" y2="712.2"/><line x1="742.7" y1="713.4" x2="742.7" y2="709.8"/><line x1="746.9" y1="710.9" x2="746.9" y2="707.4"/><line x1="717.8" y1="724.3" x2="746.9" y2="707.4"/><line x1="756.3" y1="749.8" x2="756.3" y2="746.2"/><line x1="760.3" y1="747.1" x2="760.3" y2="743.5"/><line x1="764.3" y1="744.4" x2="764.3" y2="740.8"/><line x1="768.3" y1="741.7" x2="768.3" y2="738.2"/><line x1="772.3" y1="739.0" x2="772.3" y2="735.5"/><line x1="776.3" y1="736.4" x2="776.3" y2="732.8"/><line x1="780.4" y1="733.7" x2="780.4" y2="730.1"/><line x1="784.4" y1="731.0" x2="784.4" y2="727.4"/><line x1="756.3" y1="746.2" x2="784.4" y2="727.4"/><line x1="717.8" y1="727.8" x2="717.8" y2="724.3"/><line x1="722.1" y1="730.3" x2="722.1" y2="726.7"/><line x1="726.4" y1="732.7" x2="726.4" y2="729.1"/><line x1="730.6" y1="735.1" x2="730.6" y2="731.6"/><line x1="734.9" y1="737.6" x2="734.9" y2="734.0"/><line x1="739.2" y1="740.0" x2="739.2" y2="736.4"/><line x1="743.4" y1="742.4" x2="743.4" y2="738.9"/><line x1="747.7" y1="744.9" x2="747.7" y2="741.3"/><line x1="752.0" y1="747.3" x2="752.0" y2="743.8"/><line x1="756.3" y1="749.8" x2="756.3" y2="746.2"/><line x1="717.8" y1="724.3" x2="756.3" y2="746.2"/></g>
<ellipse cx="693.0" cy="783.0" rx="7" ry="3.6" fill="#95836f"/><rect x="677.5" y="773.0" width="3" height="9" fill="#3d4a3c"/><circle cx="679.0" cy="768.0" r="7.8" fill="#a3d766"/><circle cx="683.5" cy="771.5" r="4.29" fill="#a3d766"/><circle cx="677.5" cy="766.5" r="4.68" fill="#b4e07c"/>
<ellipse cx="719.4" cy="798.2" rx="7" ry="3.6" fill="#95836f"/><rect x="703.9" y="788.2" width="3" height="9" fill="#3d4a3c"/><circle cx="705.4" cy="783.2" r="7.8" fill="#a3d766"/><circle cx="709.9" cy="786.7" r="4.29" fill="#a3d766"/><circle cx="703.9" cy="781.7" r="4.68" fill="#b4e07c"/>
<ellipse cx="746.3" cy="813.7" rx="7" ry="3.6" fill="#95836f"/><rect x="730.8" y="803.7" width="3" height="9" fill="#3d4a3c"/><circle cx="732.3" cy="798.7" r="7.8" fill="#a3d766"/><circle cx="736.8" cy="802.2" r="4.29" fill="#a3d766"/><circle cx="730.8" cy="797.2" r="4.68" fill="#b4e07c"/>
<ellipse cx="762.7" cy="820.0" rx="4" ry="2.2" fill="#86c647"/>
<ellipse cx="770.5" cy="815.5" rx="4" ry="2.2" fill="#86c647"/>
<ellipse cx="778.3" cy="811.0" rx="4" ry="2.2" fill="#86c647"/>
<ellipse cx="786.1" cy="806.5" rx="4" ry="2.2" fill="#86c647"/>
<ellipse cx="793.9" cy="802.0" rx="4" ry="2.2" fill="#86c647"/>
<ellipse cx="801.7" cy="797.5" rx="4" ry="2.2" fill="#86c647"/>
<ellipse cx="809.4" cy="793.0" rx="4" ry="2.2" fill="#86c647"/>
<ellipse cx="817.2" cy="788.5" rx="4" ry="2.2" fill="#86c647"/>
<ellipse cx="825.0" cy="784.0" rx="4" ry="2.2" fill="#86c647"/>
<ellipse cx="832.8" cy="779.5" rx="4" ry="2.2" fill="#86c647"/>
<polygon points="757.1,826.5 836.8,780.5 836.8,777.2 757.1,823.2" fill="#eef0ec" />
<g stroke="#a9c9a0" stroke-width="0.5"><line x1="758.8" y1="825.5" x2="758.8" y2="822.2"/><line x1="761.4" y1="824.0" x2="761.4" y2="820.7"/><line x1="764.0" y1="822.5" x2="764.0" y2="819.2"/><line x1="766.6" y1="821.0" x2="766.6" y2="817.7"/><line x1="769.2" y1="819.5" x2="769.2" y2="816.2"/><line x1="771.8" y1="818.0" x2="771.8" y2="814.7"/><line x1="774.4" y1="816.5" x2="774.4" y2="813.2"/><line x1="777.0" y1="815.0" x2="777.0" y2="811.7"/><line x1="779.6" y1="813.5" x2="779.6" y2="810.2"/><line x1="782.2" y1="812.0" x2="782.2" y2="808.7"/><line x1="784.8" y1="810.5" x2="784.8" y2="807.2"/><line x1="787.4" y1="809.0" x2="787.4" y2="805.7"/><line x1="790.0" y1="807.5" x2="790.0" y2="804.2"/><line x1="792.6" y1="806.0" x2="792.6" y2="802.7"/><line x1="795.2" y1="804.5" x2="795.2" y2="801.2"/><line x1="797.8" y1="803.0" x2="797.8" y2="799.7"/><line x1="800.4" y1="801.5" x2="800.4" y2="798.2"/><line x1="803.0" y1="800.0" x2="803.0" y2="796.7"/><line x1="805.6" y1="798.5" x2="805.6" y2="795.2"/><line x1="808.2" y1="797.0" x2="808.2" y2="793.7"/><line x1="810.8" y1="795.5" x2="810.8" y2="792.2"/><line x1="813.4" y1="794.0" x2="813.4" y2="790.7"/><line x1="816.0" y1="792.5" x2="816.0" y2="789.2"/><line x1="818.6" y1="791.0" x2="818.6" y2="787.7"/><line x1="821.2" y1="789.5" x2="821.2" y2="786.2"/><line x1="823.8" y1="788.0" x2="823.8" y2="784.7"/><line x1="826.4" y1="786.5" x2="826.4" y2="783.2"/><line x1="829.0" y1="785.0" x2="829.0" y2="781.7"/><line x1="831.6" y1="783.5" x2="831.6" y2="780.2"/><line x1="834.2" y1="782.0" x2="834.2" y2="778.7"/></g>
<polygon points="880.3,754.8 854.3,739.8 854.3,735.8 860.4,732.3 886.4,747.3 886.4,751.3" fill="#7cc13c" />
<polygon points="880.3,750.8 854.3,735.8 860.4,732.3 886.4,747.3" fill="#9ad957" />
<polygon points="841.2,776.0 870.6,759.0 856.8,751.0 827.4,768.0" fill="#8a7866" />
<polygon points="841.2,774.0 868.1,758.5 868.1,753.5 841.2,769.0" fill="#d9d4c6" />
<polygon points="841.2,774.0 829.1,767.0 829.1,762.0 841.2,769.0" fill="#e9e5da" />
<polygon points="841.2,769.0 868.1,753.5 855.9,746.5 829.1,762.0" fill="#f5f2ea" />
<polygon points="846.8,765.2 861.6,756.8 859.0,753.2 848.6,759.2" fill="#5d6468" />
<polygon points="846.8,765.2 835.6,758.8 839.0,753.8 848.6,759.2" fill="#6d7478" />
<polygon points="848.6,759.2 859.0,753.2 849.4,747.8 839.0,753.8" fill="#f5f2ea" />
<ellipse cx="846.7" cy="770.6" rx="2.3" ry="2.8" fill="#2c2c2e"/>
<ellipse cx="863.1" cy="761.1" rx="2.3" ry="2.8" fill="#2c2c2e"/>
<g stroke="#f1f2f6" stroke-width="1.3"><polyline points="885,755 885,726.7 893,729.7" fill="none"/><polyline points="816.7,795 816.7,766.7 824.7,769.7" fill="none"/><polyline points="791.7,808.3 791.7,780 799.7,783" fill="none"/><polyline points="767,822 767,795 775,798" fill="none"/><polyline points="888,756 911,756 911,762" fill="none"/></g>
<g stroke="#aeb1bd" stroke-width="0.5" transform="translate(0.9,0)"><polyline points="885,755 885,726.7 893,729.7" fill="none"/><polyline points="816.7,795 816.7,766.7 824.7,769.7" fill="none"/><polyline points="791.7,808.3 791.7,780 799.7,783" fill="none"/><polyline points="767,822 767,795 775,798" fill="none"/><polyline points="888,756 911,756 911,762" fill="none"/></g>
</svg>
</body>
</html>
